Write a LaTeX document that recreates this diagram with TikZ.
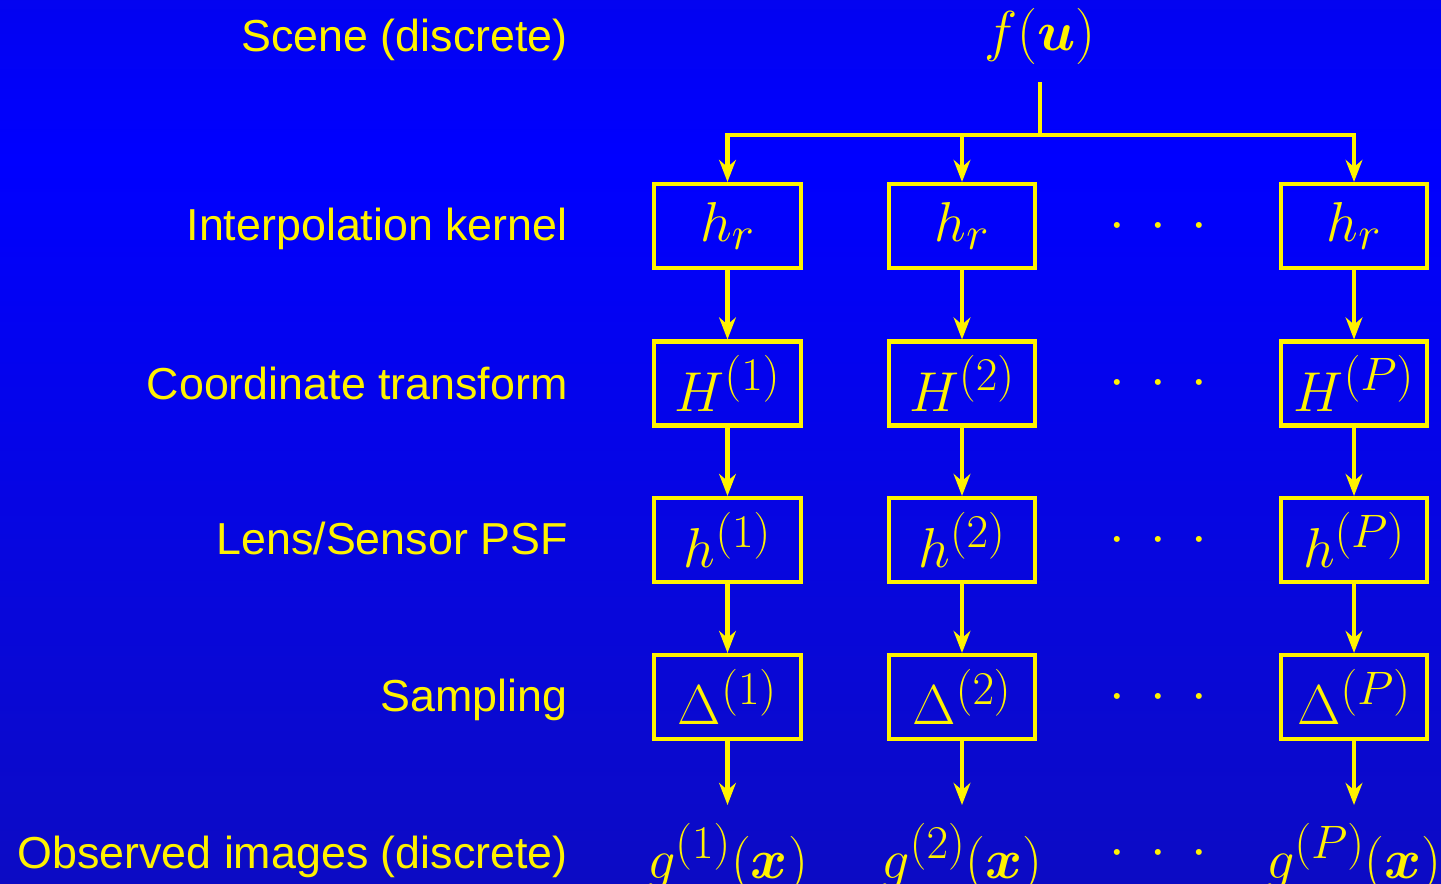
\RequirePackage{fix-cm}
\documentclass[tikz,border=0pt]{standalone}
\usepackage{amsmath}
\usepackage{fontspec}
\setmainfont{Liberation Sans}
\usetikzlibrary{arrows.meta}
\DeclareMathSizes{32}{32}{26.7}{22.2}

\definecolor{bgtop}{RGB}{10,10,200}
\definecolor{bgmid}{RGB}{0,0,255}
\definecolor{bgbot}{RGB}{20,18,160}
\pgfdeclareverticalshading{slidebg}{100bp}{color(0bp)=(bgbot); color(66bp)=(bgmid); color(100bp)=(bgtop)}

\begin{document}
\begin{tikzpicture}[x=0.02cm, y=-0.02cm,
    every node/.style={text=yellow},
    lbl/.style={anchor=base east, inner sep=0pt, font=\fontsize{25.5}{30}\selectfont},
    res/.style={inner sep=10pt, font=\fontsize{32}{38}\selectfont},
    blk/.style={res, draw=yellow, line width=2.3pt, inner xsep=5pt, inner ysep=8pt,
                minimum width=83.6pt, minimum height=47.8pt},
    wire/.style={draw=yellow, line width=2.3pt},
    arr/.style={wire, -{Stealth[length=12.5pt, width=9.5pt, inset=4pt]}}
]

% Background
\useasboundingbox (0,0) rectangle (1441,884);
\shade[shading=slidebg] (0,0) rectangle (1441,884);

% Row labels
\node[lbl] (scene)  at (568,52)  {Scene (discrete)};
\node[lbl] (interp) at (568,241) {Interpolation kernel};
\node[lbl] (coord)  at (568,400) {Coordinate transform};
\node[lbl] (lens)   at (568,555) {Lens/Sensor PSF};
\node[lbl] (sampl)  at (568,712) {Sampling};
\node[lbl] (obs)    at (568,868) {Observed images (discrete)};

% Scene
\node[res, anchor=south] (f) at (1040,82) {$f(\boldsymbol{u})$};
\coordinate (bus) at (1041,135);

% Channels
\foreach \c/\x in {1/727.5, 2/962, P/1354} {
  \node[blk] (hr\c)   at (\x,226)   {$h_r$};
  \node[blk] (H\c)    at (\x,383.5) {$H^{(\c)}$};
  \node[blk] (psf\c)  at (\x,540)   {$h^{(\c)}$};
  \node[blk] (samp\c) at (\x,697)   {$\Delta^{(\c)}$};
  \node[res, anchor=north] (g\c) at (\x,805) {$g^{(\c)}(\boldsymbol{x})$};
  \draw[arr] (hr\c) -- (H\c);
  \draw[arr] (H\c) -- (psf\c);
  \draw[arr] (psf\c) -- (samp\c);
  \draw[arr] (samp\c) -- (g\c);
}

% Dots
\foreach \y [count=\i] in {226,383.5,540,697,853} {
  \node[res, anchor=base] (dots\i) at (1158.5,\y+13.5) {$\cdotp\hskip9pt\cdotp\hskip9pt\cdotp$};
}

% Fan-out
\draw[wire] (f) -- (f |- bus);
\draw[arr] (f |- bus) -| (hr1);
\draw[arr] (f |- bus) -| (hrP);
\draw[arr] (hr2 |- bus) -- (hr2);

\end{tikzpicture}
\end{document}
